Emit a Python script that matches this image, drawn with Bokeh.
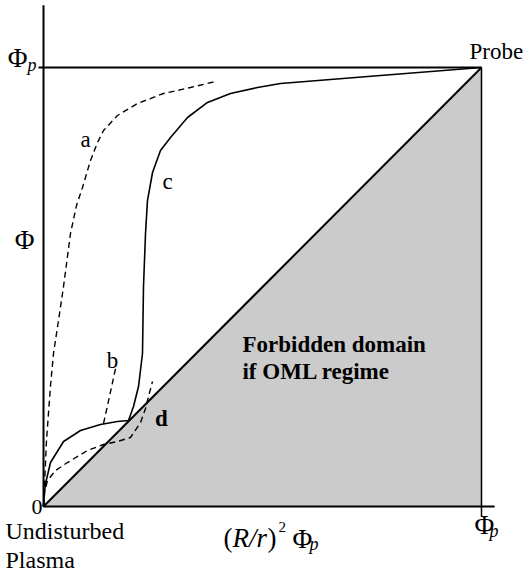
from bokeh.plotting import figure
from bokeh.models import Range1d, Label
from bokeh.embed import file_html
from bokeh.resources import INLINE

# ---- data (normalised: Phi_p = 1, x axis also scaled to Phi_p = 1) ----
c_x = [0, 0.0023, 0.0046, 0.0160, 0.0457, 0.0845, 0.1301, 0.1689, 0.1941, 0.2055, 0.2169,
       0.2260, 0.2283, 0.2329, 0.2374, 0.2489, 0.2671, 0.2900, 0.3288, 0.3744, 0.4269,
       0.4886, 0.5411, 0.7694, 1.0]
c_y = [0, 0.0319, 0.0524, 0.1002, 0.1481, 0.1731, 0.1868, 0.1936, 0.1959, 0.2278, 0.2733,
       0.3485, 0.5011, 0.6219, 0.6970, 0.7608, 0.8109, 0.8405, 0.8861, 0.9203, 0.9408,
       0.9544, 0.9636, 0.9818, 1.0]

a_x = [0, 0.0023, 0.0068, 0.0160, 0.0228, 0.0342, 0.0457, 0.0616, 0.0753, 0.0890, 0.1073,
       0.1233, 0.1370, 0.1689, 0.2146, 0.2740, 0.3356, 0.3927]
a_y = [0, 0.0478, 0.1503, 0.2756, 0.3485, 0.4237, 0.5011, 0.6219, 0.6856, 0.7267, 0.7882,
       0.8292, 0.8565, 0.8907, 0.9180, 0.9408, 0.9544, 0.9681]

b_x = [0.1370, 0.1507, 0.1644]
b_y = [0.1891, 0.2506, 0.3144]

d_x = [0, 0.0023, 0.0091, 0.0274, 0.0548, 0.1005, 0.1370, 0.1689, 0.1986, 0.2215, 0.2329,
       0.2397, 0.2489]
d_y = [0, 0.0319, 0.0592, 0.0820, 0.1002, 0.1276, 0.1412, 0.1481, 0.1572, 0.1913, 0.2232,
       0.2506, 0.2847]

# forbidden (OML) domain below the diagonal, and the frame lines
forbid_x = [0, 1, 1]
forbid_y = [0, 0, 1]
diag_x = [0, 1]
diag_y = [0, 1]
phip_x = [-0.0114, 1]
phip_y = [1, 1]
right_x = [1, 1]
right_y = [1, -0.0228]
xaxis_x = [0, 1.03]
xaxis_y = [0, 0]
yaxis_x = [0, 0]
yaxis_y = [0, 1.142]

W, H = 524, 572
p = figure(width=W, height=H, output_backend="svg", toolbar_location=None,
           x_range=Range1d(-0.0982, 1.0982), y_range=Range1d(-0.1503, 1.1526),
           min_border=0, min_border_left=0, min_border_right=0,
           min_border_top=0, min_border_bottom=0)
p.axis.visible = False
p.grid.visible = False
p.outline_line_color = None
p.background_fill_color = "white"
p.border_fill_color = "white"

p.patch(forbid_x, forbid_y, fill_color="#cbcbcb", line_color=None)
p.line(diag_x, diag_y, line_color="black", line_width=2)
p.line(phip_x, phip_y, line_color="black", line_width=2)
p.line(right_x, right_y, line_color="black", line_width=1.5)
p.line(xaxis_x, xaxis_y, line_color="black", line_width=2)
p.line(yaxis_x, yaxis_y, line_color="black", line_width=2)

p.line(c_x, c_y, line_color="black", line_width=1.6)
p.line(a_x, a_y, line_color="black", line_width=1.4, line_dash="6 4")
p.line(b_x, b_y, line_color="black", line_width=1.4, line_dash="6 4")
p.line(d_x, d_y, line_color="black", line_width=1.4, line_dash="6 4")

F = "Liberation Serif"

def lab(x, y, t, size, align="left", style="normal"):
    p.add_layout(Label(x=x, y=y, text=t, text_font=F, text_font_size=f"{size}px",
                       text_align=align, text_baseline="alphabetic",
                       text_font_style=style, text_color="black"))

lab(0.9726, 1.0364, "Probe", 23)
lab(-0.0594, 1.0205, "Φ", 27, "center")
lab(-0.0365, 1.0068, "p", 18, "left", "italic")
lab(-0.0434, 0.6082, "Φ", 27, "center")
lab(-0.0023, 0.0, "0", 22, "right")
lab(-0.0868, -0.0569, "Undisturbed", 24)
lab(-0.0868, -0.1207, "Plasma", 24)
lab(0.4110, -0.0706, "(", 27)
lab(0.4315, -0.0706, "R/r", 27, "left", "italic")
lab(0.5114, -0.0706, ")", 27)
lab(0.5365, -0.0456, "2", 15)
lab(0.5685, -0.0729, "Φ", 27)
lab(0.6073, -0.0843, "p", 18, "left", "italic")
lab(0.9840, -0.0410, "Φ", 27)
lab(1.0183, -0.0547, "p", 18, "left", "italic")
lab(0.4543, 0.3690, "Forbidden domain", 23, "left", "bold")
lab(0.4543, 0.3075, "if OML regime", 23, "left", "bold")
lab(0.0959, 0.8360, "a", 23, "center")
lab(0.2831, 0.7403, "c", 23, "center")
lab(0.1575, 0.3326, "b", 23, "center")
lab(0.2694, 0.2005, "d", 23, "center", "bold")

open("out.html", "w").write(file_html(p, INLINE))
